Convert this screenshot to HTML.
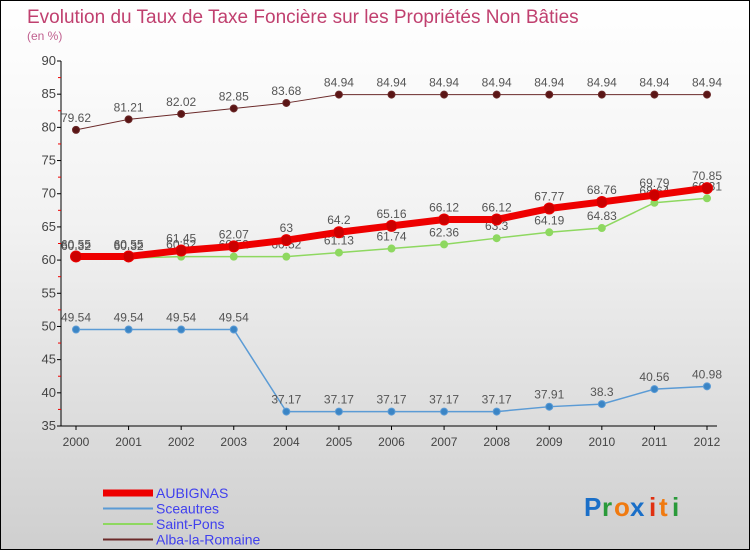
<!DOCTYPE html>
<html><head><meta charset="utf-8"><style>
html,body{margin:0;padding:0}
#wrap{width:748px;height:548px;border:1px solid #000;background:linear-gradient(#ffffff,#f2f2f2 40%,#cfcfcf);position:relative;overflow:hidden;font-family:"Liberation Sans",sans-serif}
svg text{font-family:"Liberation Sans",sans-serif}
</style></head><body>
<div id="wrap">
<svg id="chart" width="748" height="548">
<text x="26" y="22" font-size="19" fill="#c0406f">Evolution du Taux de Taxe Foncière sur les Propriétés Non Bâties</text>
<text x="26" y="39" font-size="12" fill="#c0608f">(en %)</text>
<g id="axes"></g><g id="series"></g><g id="legend"></g>
<g font-size="26" font-weight="bold">
<text x="583" y="515" fill="#1a6fc8">P</text><text x="601" y="515" fill="#2a9a3a">r</text><text x="613" y="515" fill="#f07a10">o</text><text x="629" y="515" fill="#1a6fc8">x</text><text x="648" y="515" fill="#e03010">i</text><text x="658" y="515" fill="#f07a10">t</text><text x="671" y="515" fill="#2a9a3a">i</text>
</g>
</svg>
</div>
<script>
const years=[2000,2001,2002,2003,2004,2005,2006,2007,2008,2009,2010,2011,2012];
const yTicks=[35,40,45,50,55,60,65,70,75,80,85,90];
const aubignas=[60.55,60.55,61.45,62.07,63,64.2,65.16,66.12,66.12,67.77,68.76,69.79,70.85];
const sceautres=[49.54,49.54,49.54,49.54,37.17,37.17,37.17,37.17,37.17,37.91,38.3,40.56,40.98];
const saintPons=[60.32,60.32,60.52,60.52,60.52,61.13,61.74,62.36,63.3,64.19,64.83,68.64,69.31];
const alba=[79.62,81.21,82.02,82.85,83.68,84.94,84.94,84.94,84.94,84.94,84.94,84.94,84.94];
const seriesNames=["AUBIGNAS","Sceautres","Saint-Pons","Alba-la-Romaine"];

const NS="http://www.w3.org/2000/svg";
const x=i=>75+i*(631/(years.length-1));
const y=v=>60+(90-v)*(365/55);
function mk(tag,attrs,parent,text){const e=document.createElementNS(NS,tag);for(const k in attrs)e.setAttribute(k,attrs[k]);if(text!==undefined)e.textContent=text;parent.appendChild(e);return e;}
const axes=document.getElementById('axes');
let l=mk('line',{x1:60,y1:y(90),x2:60,y2:y(35),stroke:'#000'},axes);


l=mk('line',{x1:60,y1:y(35),x2:x(12)+10,y2:y(35),stroke:'#000'},axes);


yTicks.forEach(v=>{
  mk('line',{x1:56,y1:y(v),x2:60,y2:y(v),stroke:'#000'},axes);
  if(v<90)mk('line',{x1:57,y1:y(v+2.5),x2:60,y2:y(v+2.5),stroke:'#e00'},axes);
  const t=mk('text',{x:55,y:y(v)+4,'font-size':13,'text-anchor':'end',fill:'#444'},axes,String(v));
  
  
});
years.forEach((yr,i)=>{
  mk('line',{x1:x(i),y1:y(35),x2:x(i),y2:y(35)+4,stroke:'#000'},axes);
  const t=mk('text',{x:x(i),y:y(35)+20,'font-size':12,'text-anchor':'middle',fill:'#444'},axes,String(yr));
  
  
});
const sg=document.getElementById('series');
function draw(data,color,w,r,fill,name){
  const g=mk('g',{},sg);
  
  
  mk('polyline',{points:data.map((v,i)=>x(i)+','+y(v)).join(' '),fill:'none',stroke:color,'stroke-width':w,'stroke-linejoin':'round'},g);
  data.forEach((v,i)=>{
    const c=mk('circle',{cx:x(i),cy:y(v),r:r,fill:fill,stroke:color,'stroke-width':1},g);
    
    
    const t=mk('text',{x:x(i),y:y(v)-8,'font-size':12,'text-anchor':'middle',fill:'#555'},g,String(v));
    
    
  });
}
draw(alba,'#6b2a2a',1,3.5,'#5a1515','alba-la-romaine');
draw(sceautres,'#5b9bd5',1.5,3.5,'#3b85c5','sceautres');
draw(saintPons,'#8ed860',1.5,3.5,'#8ed860','saint-pons');
draw(aubignas,'#ee0000',7,5.5,'#cc0000','aubignas');
const lg=document.getElementById('legend');
const lc=['#ee0000','#5b9bd5','#8ed860','#6b2a2a'],lw=[7,2,2,2];
seriesNames.forEach((n,i)=>{
  const yy=492+i*15.5;
  const g=mk('g',{},lg);
  
  
  mk('line',{x1:102,y1:yy,x2:152,y2:yy,stroke:lc[i],'stroke-width':lw[i]},g);
  mk('text',{x:155,y:yy+5,'font-size':14,fill:'#4040ee'},g,n);
});
</script>
</body></html>
